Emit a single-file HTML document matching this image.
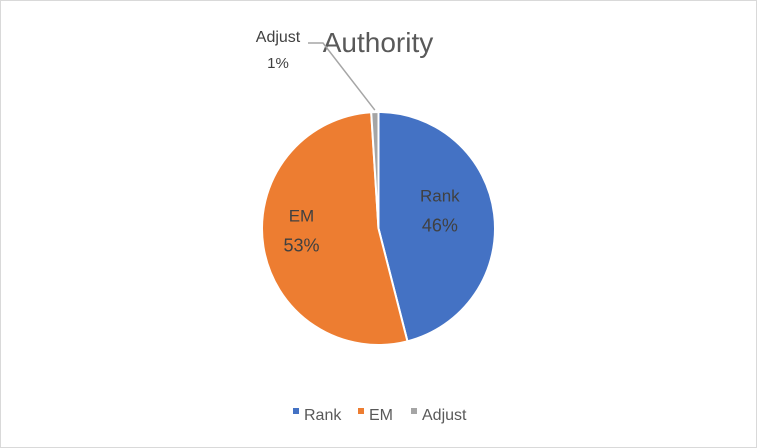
<!DOCTYPE html>
<html><head><meta charset="utf-8"><style>
body{margin:0;background:#fff;}
svg{display:block;font-family:"Liberation Sans",sans-serif;}
</style></head><body>
<svg width="757" height="448">
<rect x="0.5" y="0.5" width="756" height="447" fill="#fff" stroke="#d9d9d9"/>
<text x="378" y="52" font-size="28" fill="#595959" text-anchor="middle">Authority</text>
<g id="slices"></g>
<g id="labels"></g>
<g font-size="16" fill="#595959">
<rect x="293" y="408" width="6" height="6" fill="#4472c4"/>
<text x="304" y="420">Rank</text>
<rect x="358" y="408" width="6" height="6" fill="#ed7d31"/>
<text x="369" y="420">EM</text>
<rect x="411" y="408" width="6" height="6" fill="#a5a5a5"/>
<text x="422" y="420">Adjust</text>
</g>
</svg>
<script>
const categories=["Rank","EM","Adjust"];
const values=[46,53,1];
const colors=["#4472c4","#ed7d31","#a5a5a5"];
const cx=378.5,cy=228.5,r=116.5;
const ns="http://www.w3.org/2000/svg";
const total=values.reduce((a,b)=>a+b,0);
const sg=document.getElementById('slices'),lg=document.getElementById('labels');
function pt(a,rr){return [cx+rr*Math.sin(a),cy-rr*Math.cos(a)];}
let acc=0;
values.forEach((v,i)=>{
  const a0=acc/total*2*Math.PI;acc+=v;const a1=acc/total*2*Math.PI;
  const p0=pt(a0,r),p1=pt(a1,r);
  const p=document.createElementNS(ns,'path');
  p.setAttribute('d',`M${cx},${cy}L${p0[0]},${p0[1]}A${r},${r} 0 ${a1-a0>Math.PI?1:0} 1 ${p1[0]},${p1[1]}Z`);
  p.setAttribute('fill',colors[i]);p.setAttribute('stroke','#fff');p.setAttribute('stroke-width','2');
  
  
  sg.appendChild(p);
  const pct=Math.round(v/total*100)+'%';
  const am=(a0+a1)/2;
  if(v/total>0.05){
    const c=pt(am,r*0.6);
    const t1=document.createElementNS(ns,'text');
    t1.setAttribute('x',c[0]-8);t1.setAttribute('y',c[1]-18);t1.setAttribute('text-anchor','middle');
    t1.setAttribute('font-size','17');t1.setAttribute('fill','#404040');t1.textContent=categories[i];
    
    
    lg.appendChild(t1);
    const t2=document.createElementNS(ns,'text');
    t2.setAttribute('x',c[0]-8);t2.setAttribute('y',c[1]+12);t2.setAttribute('text-anchor','middle');
    t2.setAttribute('font-size','18');t2.setAttribute('fill','#404040');t2.textContent=pct;
    
    
    lg.appendChild(t2);
  } else {
    const e=pt(am,r);
    const l=document.createElementNS(ns,'polyline');
    l.setAttribute('points',`${e[0]},${e[1]-2} 323,43 308,43`);
    l.setAttribute('fill','none');l.setAttribute('stroke','#a6a6a6');l.setAttribute('stroke-width','1.5');
    
    
    lg.appendChild(l);
    const t1=document.createElementNS(ns,'text');
    t1.setAttribute('x',278);t1.setAttribute('y',42);t1.setAttribute('text-anchor','middle');
    t1.setAttribute('font-size','16');t1.setAttribute('fill','#404040');t1.textContent=categories[i];
    
    
    lg.appendChild(t1);
    const t2=document.createElementNS(ns,'text');
    t2.setAttribute('x',278);t2.setAttribute('y',68);t2.setAttribute('text-anchor','middle');
    t2.setAttribute('font-size','15');t2.setAttribute('fill','#404040');t2.textContent=pct;
    
    
    lg.appendChild(t2);
  }
});
</script>
</body></html>
